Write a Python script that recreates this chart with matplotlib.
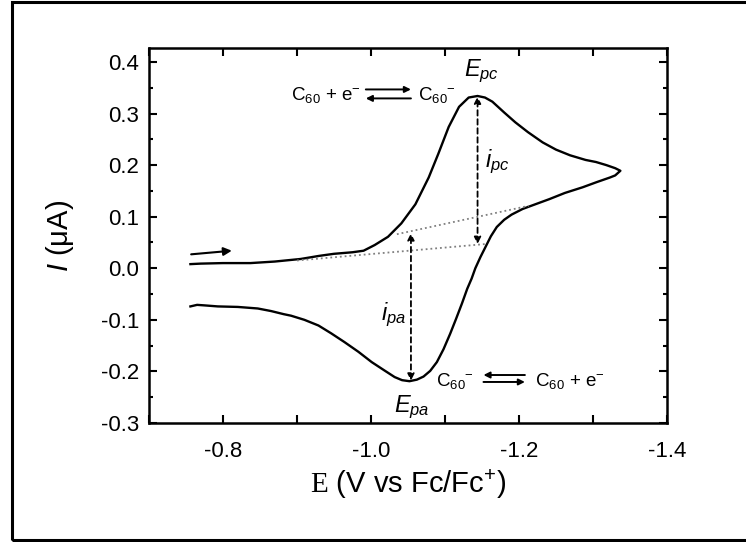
import matplotlib
matplotlib.use('Agg')
import matplotlib.pyplot as plt
from matplotlib.patches import Rectangle

plt.rcParams['font.family'] = 'Liberation Sans'
plt.rcParams['mathtext.fontset'] = 'custom'
plt.rcParams['mathtext.rm'] = 'Liberation Sans'
plt.rcParams['mathtext.it'] = 'Liberation Sans:italic'
plt.rcParams['mathtext.cal'] = 'Liberation Serif'

# cyclic voltammogram, forward scan then back
E = [-0.756, -0.770, -0.800, -0.837, -0.870, -0.905, -0.930, -0.950, -0.975, -0.990,
     -1.005, -1.023, -1.041, -1.060, -1.078, -1.091, -1.105, -1.119, -1.132, -1.144,
     -1.154, -1.164, -1.180, -1.195, -1.212, -1.232, -1.250, -1.269, -1.290, -1.304,
     -1.318, -1.330, -1.337,
     -1.330, -1.323, -1.305, -1.286, -1.262, -1.241, -1.222, -1.205, -1.190, -1.180,
     -1.170, -1.162, -1.155, -1.148, -1.141, -1.136, -1.130, -1.123, -1.115, -1.107,
     -1.098, -1.089, -1.080, -1.071, -1.062, -1.052, -1.042, -1.032, -1.018, -1.001,
     -0.983, -0.964, -0.946, -0.929, -0.910, -0.892, -0.882, -0.865, -0.847, -0.820,
     -0.793, -0.775, -0.765, -0.756]
I = [0.008, 0.009, 0.010, 0.010, 0.013, 0.018, 0.024, 0.028, 0.031, 0.034,
     0.045, 0.061, 0.087, 0.124, 0.176, 0.222, 0.274, 0.313, 0.331, 0.334,
     0.331, 0.323, 0.302, 0.283, 0.264, 0.244, 0.230, 0.219, 0.210, 0.206,
     0.200, 0.194, 0.189,
     0.180, 0.176, 0.167, 0.157, 0.146, 0.134, 0.124, 0.115, 0.104, 0.094,
     0.080, 0.062, 0.042, 0.022, 0.000, -0.020, -0.040, -0.068, -0.098, -0.127,
     -0.157, -0.182, -0.199, -0.210, -0.216, -0.219, -0.217, -0.211, -0.198, -0.182,
     -0.162, -0.143, -0.126, -0.111, -0.100, -0.092, -0.089, -0.083, -0.078, -0.075,
     -0.074, -0.072, -0.071, -0.074]

# baselines (dotted)
base_c_E = [-0.90, -1.155]
base_c_I = [0.015, 0.047]
base_a_E = [-1.035, -1.213]
base_a_I = [0.066, 0.121]

# peak positions / currents
Epc, Ipc, Ipc_base = -1.144, 0.333, 0.047
Epa, Ipa, Ipa_base = -1.054, -0.218, 0.068

fig = plt.figure(figsize=(7.46, 5.42), dpi=100)
ax = fig.add_axes([0.1997, 0.2196, 0.6944, 0.6918])

ax.plot(E, I, color='black', linewidth=1.7)
ax.plot(base_c_E, base_c_I, color='gray', linestyle=':', linewidth=1.3)
ax.plot(base_a_E, base_a_I, color='gray', linestyle=':', linewidth=1.3)

dash_arrow = dict(arrowstyle='<|-|>', color='black', linestyle=(0, (3, 2)),
                  linewidth=1.3, mutation_scale=10, shrinkA=0, shrinkB=0)
ax.annotate('', xy=(Epc, Ipc), xytext=(Epc, Ipc_base), arrowprops=dash_arrow)
ax.annotate('', xy=(Epa, Ipa_base), xytext=(Epa, Ipa), arrowprops=dash_arrow)

# scan direction arrow
ax.annotate('', xy=(-0.812, 0.034), xytext=(-0.757, 0.027),
            arrowprops=dict(arrowstyle='-|>', color='black', linewidth=1.5,
                            mutation_scale=12, shrinkA=0, shrinkB=0))

# labels
ax.text(-1.150, 0.382, '$E_{pc}$', fontsize=17, ha='center', va='center')
ax.text(-1.171, 0.206, '$i_{pc}$', fontsize=17, ha='center', va='center')
ax.text(-1.030, -0.091, '$i_{pa}$', fontsize=17, ha='center', va='center')
ax.text(-1.055, -0.269, '$E_{pa}$', fontsize=17, ha='center', va='center')

eq_arrow = dict(arrowstyle='-|>', color='black', linewidth=1.4,
                mutation_scale=9, shrinkA=0, shrinkB=0)
# C60 + e- <=> C60-
ax.text(-0.986, 0.327, 'C$_{60}$ + e$^{-}$', fontsize=13.5, ha='right', va='baseline')
ax.annotate('', xy=(-1.054, 0.3467), xytext=(-0.993, 0.3467), arrowprops=eq_arrow)
ax.annotate('', xy=(-0.993, 0.3293), xytext=(-1.054, 0.3293), arrowprops=eq_arrow)
ax.text(-1.064, 0.327, 'C$_{60}$$^{-}$', fontsize=13.5, ha='left', va='baseline')
# C60- <=> C60 + e-
ax.text(-1.139, -0.228, 'C$_{60}$$^{-}$', fontsize=13.5, ha='right', va='baseline')
ax.annotate('', xy=(-1.152, -0.207), xytext=(-1.208, -0.207), arrowprops=eq_arrow)
ax.annotate('', xy=(-1.208, -0.2205), xytext=(-1.152, -0.2205), arrowprops=eq_arrow)
ax.text(-1.221, -0.228, 'C$_{60}$ + e$^{-}$', fontsize=13.5, ha='left', va='baseline')

ax.set_xlim(-0.7, -1.4)
ax.set_ylim(-0.3, 0.427)
xt = [-0.7, -0.8, -0.9, -1.0, -1.1, -1.2, -1.3, -1.4]
ax.set_xticks(xt)
ax.set_xticklabels(['', '-0.8', '', '-1.0', '', '-1.2', '', '-1.4'])
ax.set_yticks([-0.3, -0.2, -0.1, 0.0, 0.1, 0.2, 0.3, 0.4])
ax.set_yticklabels(['-0.3', '-0.2', '-0.1', '0.0', '0.1', '0.2', '0.3', '0.4'])
ax.set_yticks([-0.25, -0.15, -0.05, 0.05, 0.15, 0.25, 0.35], minor=True)
ax.tick_params(which='both', direction='in', top=True, right=True, width=1.5,
               labelsize=16)
ax.tick_params(axis='y', pad=7)
ax.tick_params(axis='x', pad=13)
ax.tick_params(which='major', length=6)
ax.tick_params(which='minor', length=3)
for s in ax.spines.values():
    s.set_linewidth(1.8)

ax.set_xlabel(r'$\mathcal{E}$ (V vs Fc/Fc$^{+}$)', fontsize=21, labelpad=4)
ax.set_ylabel('$I$ (\u03bcA)', fontsize=21, labelpad=18)

# outer frame
fig.add_artist(Rectangle((12 / 746, 2 / 542), 1.0, 1 - 4 / 542, transform=fig.transFigure,
                         fill=False, edgecolor='black', linewidth=2.2))

plt.savefig('out.png', dpi=100)
